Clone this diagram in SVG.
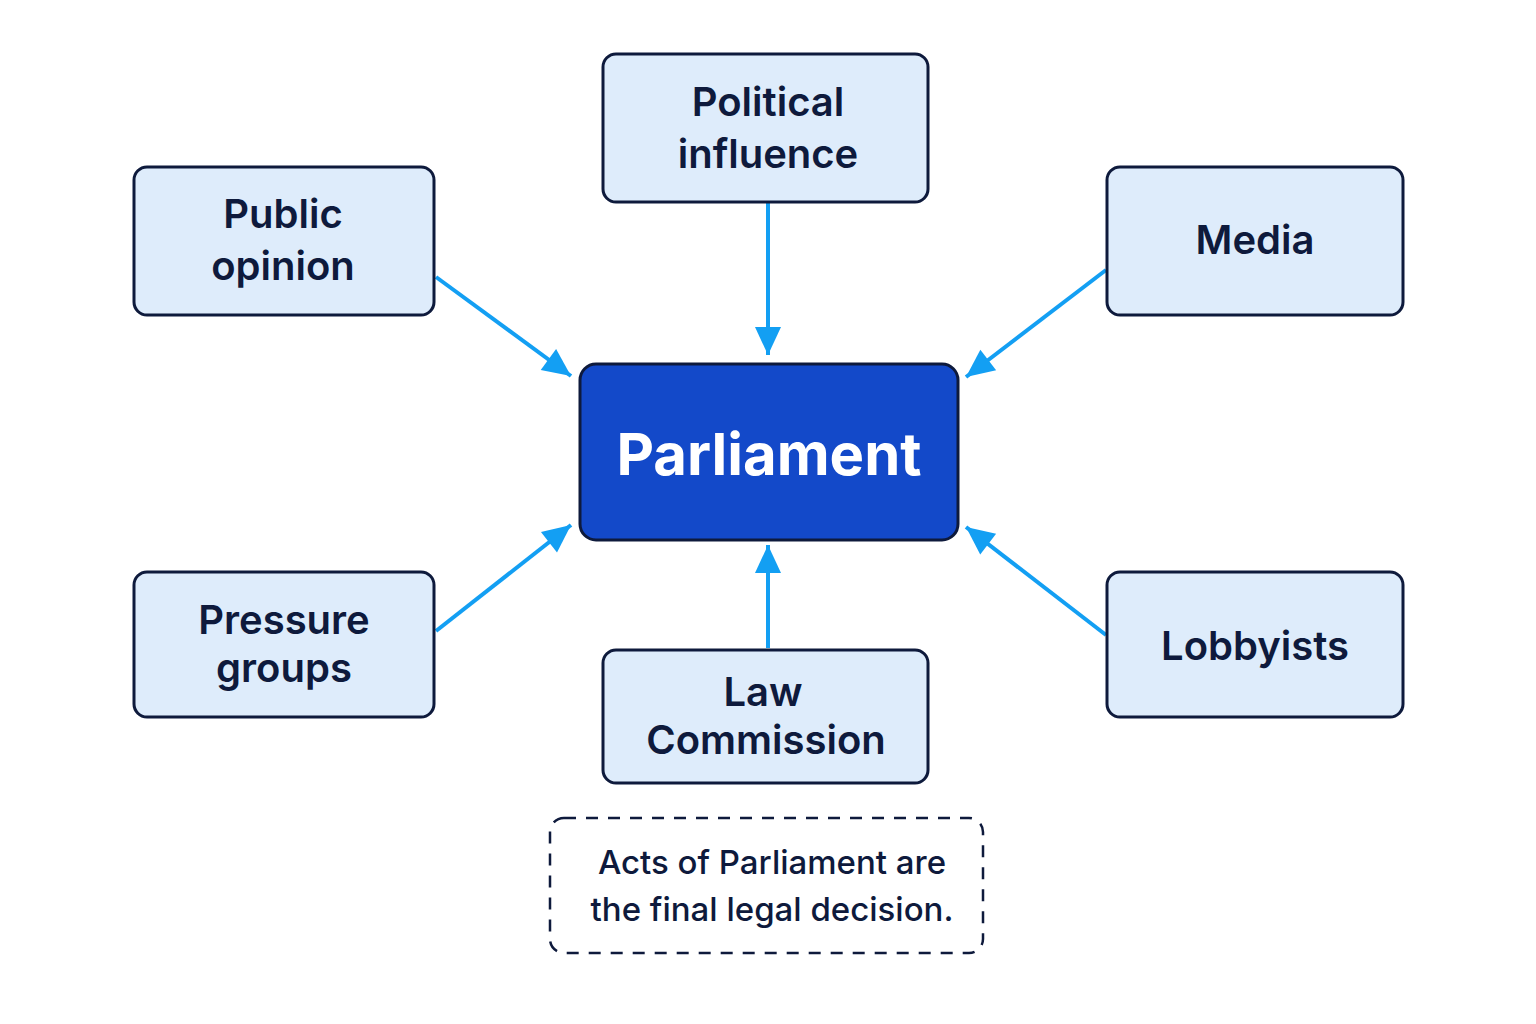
<svg xmlns="http://www.w3.org/2000/svg" width="1536" height="1024" viewBox="0 0 1536 1024">
<defs>
<style>
.box{fill:#deecfb;stroke:#0e1a3c;stroke-width:3}
.lbl{font-family:Inter,"Noto Sans",sans-serif;font-weight:600;font-size:40px;fill:#0e1a3c;text-anchor:middle}
.main{fill:#1349c9;stroke:#0e1a3c;stroke-width:3}
.mainlbl{font-family:Inter,"Noto Sans",sans-serif;font-weight:700;font-size:58px;fill:#ffffff;text-anchor:middle}
.note{fill:none;stroke:#0e1a3c;stroke-width:2.5;stroke-dasharray:12 10}
.notelbl{font-family:Inter,"Noto Sans",sans-serif;font-weight:500;font-size:33px;fill:#0e1a3c;text-anchor:middle}
.conn{stroke:#139ff3;stroke-width:4;fill:none;marker-end:url(#ah)}
</style>
<marker id="ah" markerUnits="userSpaceOnUse" markerWidth="32" markerHeight="32" viewBox="0 0 32 32" refX="30" refY="16" orient="auto">
<path d="M2,3 L30,16 L2,29 Z" fill="#139ff3"/>
</marker>
</defs>
<rect width="1536" height="1024" fill="#ffffff"/>
<g id="connectors">
<line class="conn" x1="768" y1="203" x2="768" y2="355"/>
<line class="conn" x1="436" y1="277" x2="571" y2="376"/>
<line class="conn" x1="1106" y1="270" x2="966" y2="377"/>
<line class="conn" x1="436" y1="631" x2="571" y2="525"/>
<line class="conn" x1="768" y1="648" x2="768" y2="545"/>
<line class="conn" x1="1106" y1="635" x2="966" y2="527"/>
</g>
<g id="political-influence">
<rect class="box" x="603" y="54" width="325" height="148" rx="13"/>
<text class="lbl" x="768" y="116">Political</text>
<text class="lbl" x="768" y="168">influence</text>
</g>
<g id="public-opinion">
<rect class="box" x="134" y="167" width="300" height="148" rx="13"/>
<text class="lbl" x="283" y="228">Public</text>
<text class="lbl" x="283" y="280">opinion</text>
</g>
<g id="media">
<rect class="box" x="1107" y="167" width="296" height="148" rx="13"/>
<text class="lbl" x="1255" y="254">Media</text>
</g>
<g id="parliament">
<rect class="main" x="580" y="364" width="378" height="176" rx="16"/>
<text class="mainlbl" x="769" y="475">Parliament</text>
</g>
<g id="pressure-groups">
<rect class="box" x="134" y="572" width="300" height="145" rx="13"/>
<text class="lbl" x="284" y="634">Pressure</text>
<text class="lbl" x="284" y="682">groups</text>
</g>
<g id="law-commission">
<rect class="box" x="603" y="650" width="325" height="133" rx="13"/>
<text class="lbl" x="763" y="706">Law</text>
<text class="lbl" x="766" y="754">Commission</text>
</g>
<g id="lobbyists">
<rect class="box" x="1107" y="572" width="296" height="145" rx="13"/>
<text class="lbl" x="1255" y="660">Lobbyists</text>
</g>
<g id="note">
<rect class="note" x="550" y="818" width="433" height="135" rx="14"/>
<text class="notelbl" x="772" y="874">Acts of Parliament are</text>
<text class="notelbl" x="772" y="921">the final legal decision.</text>
</g>
</svg>
